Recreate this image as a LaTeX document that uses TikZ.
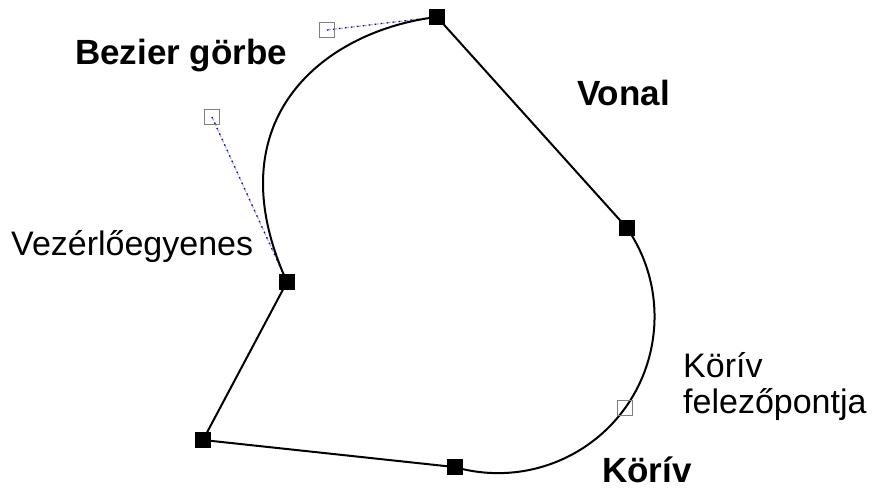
\documentclass[tikz,border=0pt]{standalone}
\usepackage{fontspec}
\setmainfont{Liberation Sans}
\usepackage{xcolor}
\usepackage{tikz}
\usetikzlibrary{arrows.meta,shapes}

\tikzset{
  pt/.style={draw=black,fill=black,minimum size=15pt,inner sep=0pt},
  hpt/.style={draw=gray,line width=1.5pt,minimum size=15pt,inner sep=0pt},
  ctrl/.style={gray!60,line width=1.2pt,dash pattern=on 4pt off 2pt},
  ctrlblue/.style={blue,line width=1.2pt,dash pattern=on 1.5pt off 4.5pt},
  lab/.style={font=\fontsize{34}{36}\selectfont,anchor=base west,inner sep=0pt,align=left},
  blab/.style={font=\fontsize{35}{36}\selectfont\bfseries,anchor=base west,inner sep=0pt}
}

\begin{document}
\begin{tikzpicture}[x=1pt,y=1pt]
\useasboundingbox(0,0)rectangle(883,490);
\coordinate(a)at(437,473);
\coordinate(b)at(627,262);
\coordinate(c)at(625,82);
\coordinate(d)at(455,23);
\coordinate(e)at(203,50);
\coordinate(f)at(287,208);
\coordinate(p1)at(212,373);
\coordinate(p2)at(327,460);
% control lines
\foreach \s/\t in {p1/f,p2/a}{
\draw[ctrl](\s)--(\t);
\draw[ctrlblue](\s)--(\t);
}
% the outline
\draw[line width=2pt](a)--(b)
arc[start angle=34.5,end angle=-106,radius=156.5]
--(e)--(f)
..controls(p1)and(p2)..(a);
% points
\foreach \p in {a,b,d,e,f}
\node[pt](sq\p)at(\p){};
\foreach \p in {c,p1,p2}
\node[hpt](hq\p)at(\p){};
% labels
\node[blab](bezier)at(75,425){Bezier görbe};
\node[blab](vonal)at(577,384){Vonal};
\node[lab](vezerlo)at(11,234){Vezérlőegyenes};
\node[lab](felezo)at(683,77){Körív\\felezőpontja};
\node[blab](koriv)at(602,8){Körív};
\end{tikzpicture}
\end{document}
